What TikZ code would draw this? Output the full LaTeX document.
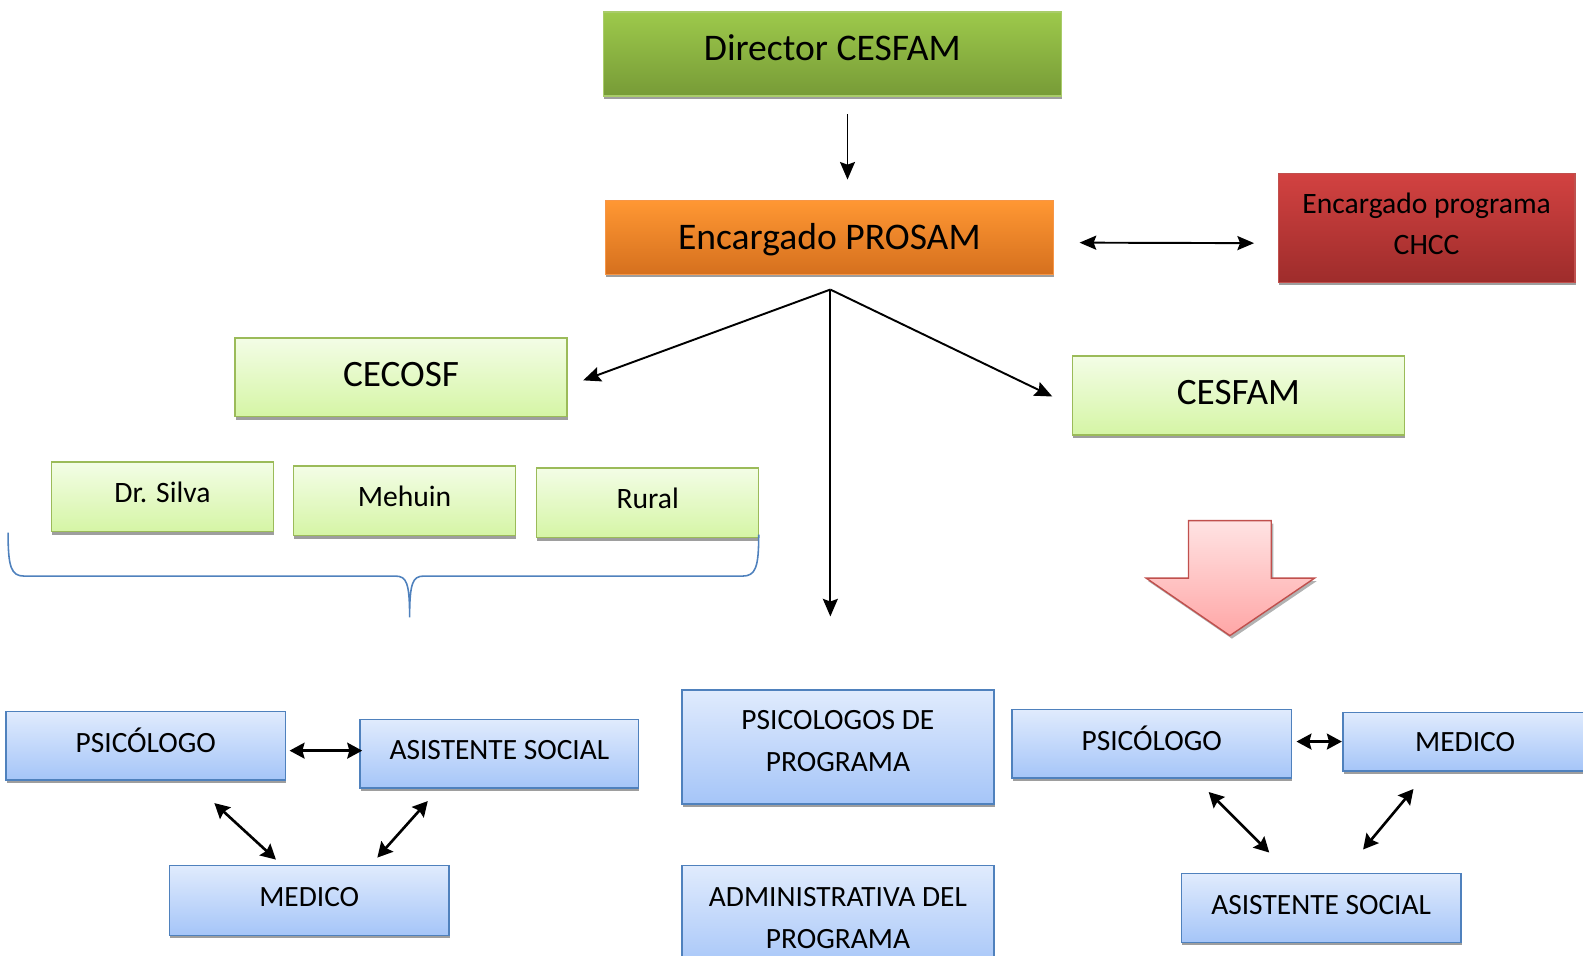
\documentclass[tikz,border=0pt]{standalone}
\usepackage{fontspec}
\setmainfont{Carlito}
\usetikzlibrary{arrows.meta,shadows}
\newcommand\upby[2]{\raisebox{#1}[\height][\depth]{#2}}
\definecolor{dgTop}{HTML}{9DC94B}
\definecolor{dgBot}{HTML}{779B37}
\definecolor{dgLine}{HTML}{A9CC6A}
\definecolor{orTop}{HTML}{FF9733}
\definecolor{orBot}{HTML}{D5701E}
\definecolor{orLine}{HTML}{F79646}
\definecolor{rdTop}{HTML}{D24241}
\definecolor{rdBot}{HTML}{9E2C2B}
\definecolor{rdLine}{HTML}{C0504D}
\definecolor{lgTop}{HTML}{F3FDE6}
\definecolor{lgBot}{HTML}{D5F5A5}
\definecolor{lgLine}{HTML}{9BBB59}
\definecolor{blTop}{HTML}{E0EBFD}
\definecolor{blBot}{HTML}{A5C5F8}
\definecolor{blLine}{HTML}{4F81BD}
\definecolor{pkTop}{HTML}{FFE3E3}
\definecolor{pkBot}{HTML}{FFA6A6}
\tikzset{
  sz/.style 2 args={minimum width=#1*0.02018cm, minimum height=#2*0.02018cm},
  boxbase/.style={rectangle, inner sep=0pt, outer sep=0pt, line width=0.8pt, align=center,
     drop shadow={shadow xshift=0.4pt, shadow yshift=-1.7pt, fill=black, opacity=0.38}},
  darkgreen/.style={boxbase, draw=dgLine, top color=dgTop, bottom color=dgBot, font=\fontsize{21.4}{25}\selectfont},
  orangebox/.style={boxbase, draw=orLine, top color=orTop, bottom color=orBot, font=\fontsize{21.4}{25}\selectfont},
  redbox/.style={boxbase, draw=rdLine, top color=rdTop, bottom color=rdBot, font=\fontsize{16.85}{23.7}\selectfont},
  lgbig/.style={boxbase, draw=lgLine, top color=lgTop, bottom color=lgBot, font=\fontsize{21.2}{25}\selectfont},
  lgsmall/.style={boxbase, draw=lgLine, top color=lgTop, bottom color=lgBot, font=\fontsize{16.85}{20}\selectfont},
  bluebox/.style={boxbase, draw=blLine, top color=blTop, bottom color=blBot, font=\fontsize{16.75}{23.7}\selectfont},
  arr/.style={line width=1.1pt, -{Stealth[length=10pt, width=8.5pt, inset=1.5pt]}},
  darr/.style={line width=1.1pt, {Stealth[length=9.5pt, width=8pt, inset=1.5pt]}-{Stealth[length=9.5pt, width=8pt, inset=1.5pt]}},
  barr/.style={line width=1.5pt, {Stealth[length=8.5pt, width=9pt, inset=1.2pt]}-{Stealth[length=8.5pt, width=9pt, inset=1.2pt]}},
  bracepath/.style={draw=blLine, line width=0.9pt},
}
\begin{document}
\begin{tikzpicture}[x=0.02018cm, y=-0.02018cm]
\useasboundingbox (0,0) rectangle (1569,947.5);
\clip (0,0) rectangle (1569,947.5);
% top level
\node[darkgreen, sz={454}{83}] (dir) at (825,53.5) {\upby{3.4pt}{Director CESFAM}};
\node[orangebox, sz={444}{73}] (pro) at (822,235.5) {\upby{-1.1pt}{Encargado PROSAM}};
\node[redbox, sz={294}{108}, text depth=4.8pt] (chcc) at (1414,226) {Encargado programa\\CHCC};
% second level
\node[lgbig, sz={329}{78}] (cec) at (397.5,374) {\upby{1.7pt}{CECOSF}};
\node[lgbig, sz={329}{78}] (ces) at (1227.5,392) {\upby{1.7pt}{CESFAM}};
\node[lgsmall, sz={220}{69}] (silva) at (161,492.5) {\raisebox{5pt}{Dr. Silva}};
\node[lgsmall, sz={220}{69}] (mehuin) at (401,496.5) {\raisebox{5pt}{Mehuin}};
\node[lgsmall, sz={220}{69}] (rural) at (642,498.5) {\raisebox{5pt}{Rural}};
% brace
\path[bracepath] (8,528) .. controls (8,562) and (11,571) .. (24,571) -- (392,571)
   .. controls (403,571) and (406,578) .. (406,612)
   .. controls (406,578) and (409,571) .. (420,571) -- (736,571)
   .. controls (749,571) and (752,562) .. (752,530);
% big arrow
\path[fill=black, opacity=0.3] (1180,519) -- (1262,519) -- (1262,576) -- (1305,576) -- (1221,633) -- (1138,576) -- (1180,576) -- cycle;
\path[draw=rdLine, line width=0.8pt, top color=pkTop, bottom color=pkBot] (1178,516) -- (1260,516) -- (1260,573) -- (1303,573) -- (1219,630) -- (1136,573) -- (1178,573) -- cycle;
% bottom left group
\node[bluebox, sz={277}{68}] (psi1) at (144.5,739) {\upby{2.8pt}{PSICÓLOGO}};
\node[bluebox, sz={276}{68}] (as1) at (495,747) {\upby{2.3pt}{ASISTENTE SOCIAL}};
\node[bluebox, sz={277}{69}] (med1) at (306.5,892.5) {\upby{1.7pt}{MEDICO}};
% middle
\node[bluebox, sz={309}{113}, text depth=6.8pt] (psp) at (830.5,740.5) {PSICOLOGOS DE\\PROGRAMA};
\node[bluebox, sz={309}{104}, overlay] (adm) at (830.5,910) {ADMINISTRATIVA DEL\\PROGRAMA};
% right group
\node[bluebox, sz={277}{68}] (psi2) at (1141.5,737) {\upby{2.8pt}{PSICÓLOGO}};
\node[bluebox, sz={277}{58}, overlay] (med2) at (1469.5,735) {\hspace*{-0.7cm}MEDICO};
\node[bluebox, sz={277}{68}] (as2) at (1309.5,900) {\upby{1.7pt}{ASISTENTE SOCIAL}};
% connectors
\draw[arr] ([shift={(15,18)}]dir.south) -- ([shift={(18,-21)}]pro.north);
\draw[darr] ([shift={(26,5)}]pro.east) -- ([shift={(-24,15)}]chcc.west);
\coordinate (br) at ([shift={(1,15)}]pro.south);
\coordinate (midend) at (823,611);
\draw[arr] (br) -- ([shift={(16,3)}]cec.east);
\draw[arr] (br) -- ([shift={(-20,1)}]ces.west);
\draw[arr] (br) -- (midend);
\draw[barr] ([shift={(4,5)}]psi1.east) -- ([shift={(2,-3)}]as1.west);
\draw[barr] ([shift={(68,23)}]psi1.south) -- ([shift={(-33,-6)}]med1.north);
\draw[barr] ([shift={(-71,13)}]as1.south) -- ([shift={(67.5,-8)}]med1.north);
\draw[barr] ([shift={(5,-2)}]psi2.east) -- ([shift={(-1,0)}]med2.west);
\draw[barr] ([shift={(56.5,14)}]psi2.south) -- ([shift={(-51.5,-21)}]as2.north);
\draw[barr] ([shift={(-68.5,18)}]med2.south) -- ([shift={(41.5,-24)}]as2.north);
\end{tikzpicture}
\end{document}
